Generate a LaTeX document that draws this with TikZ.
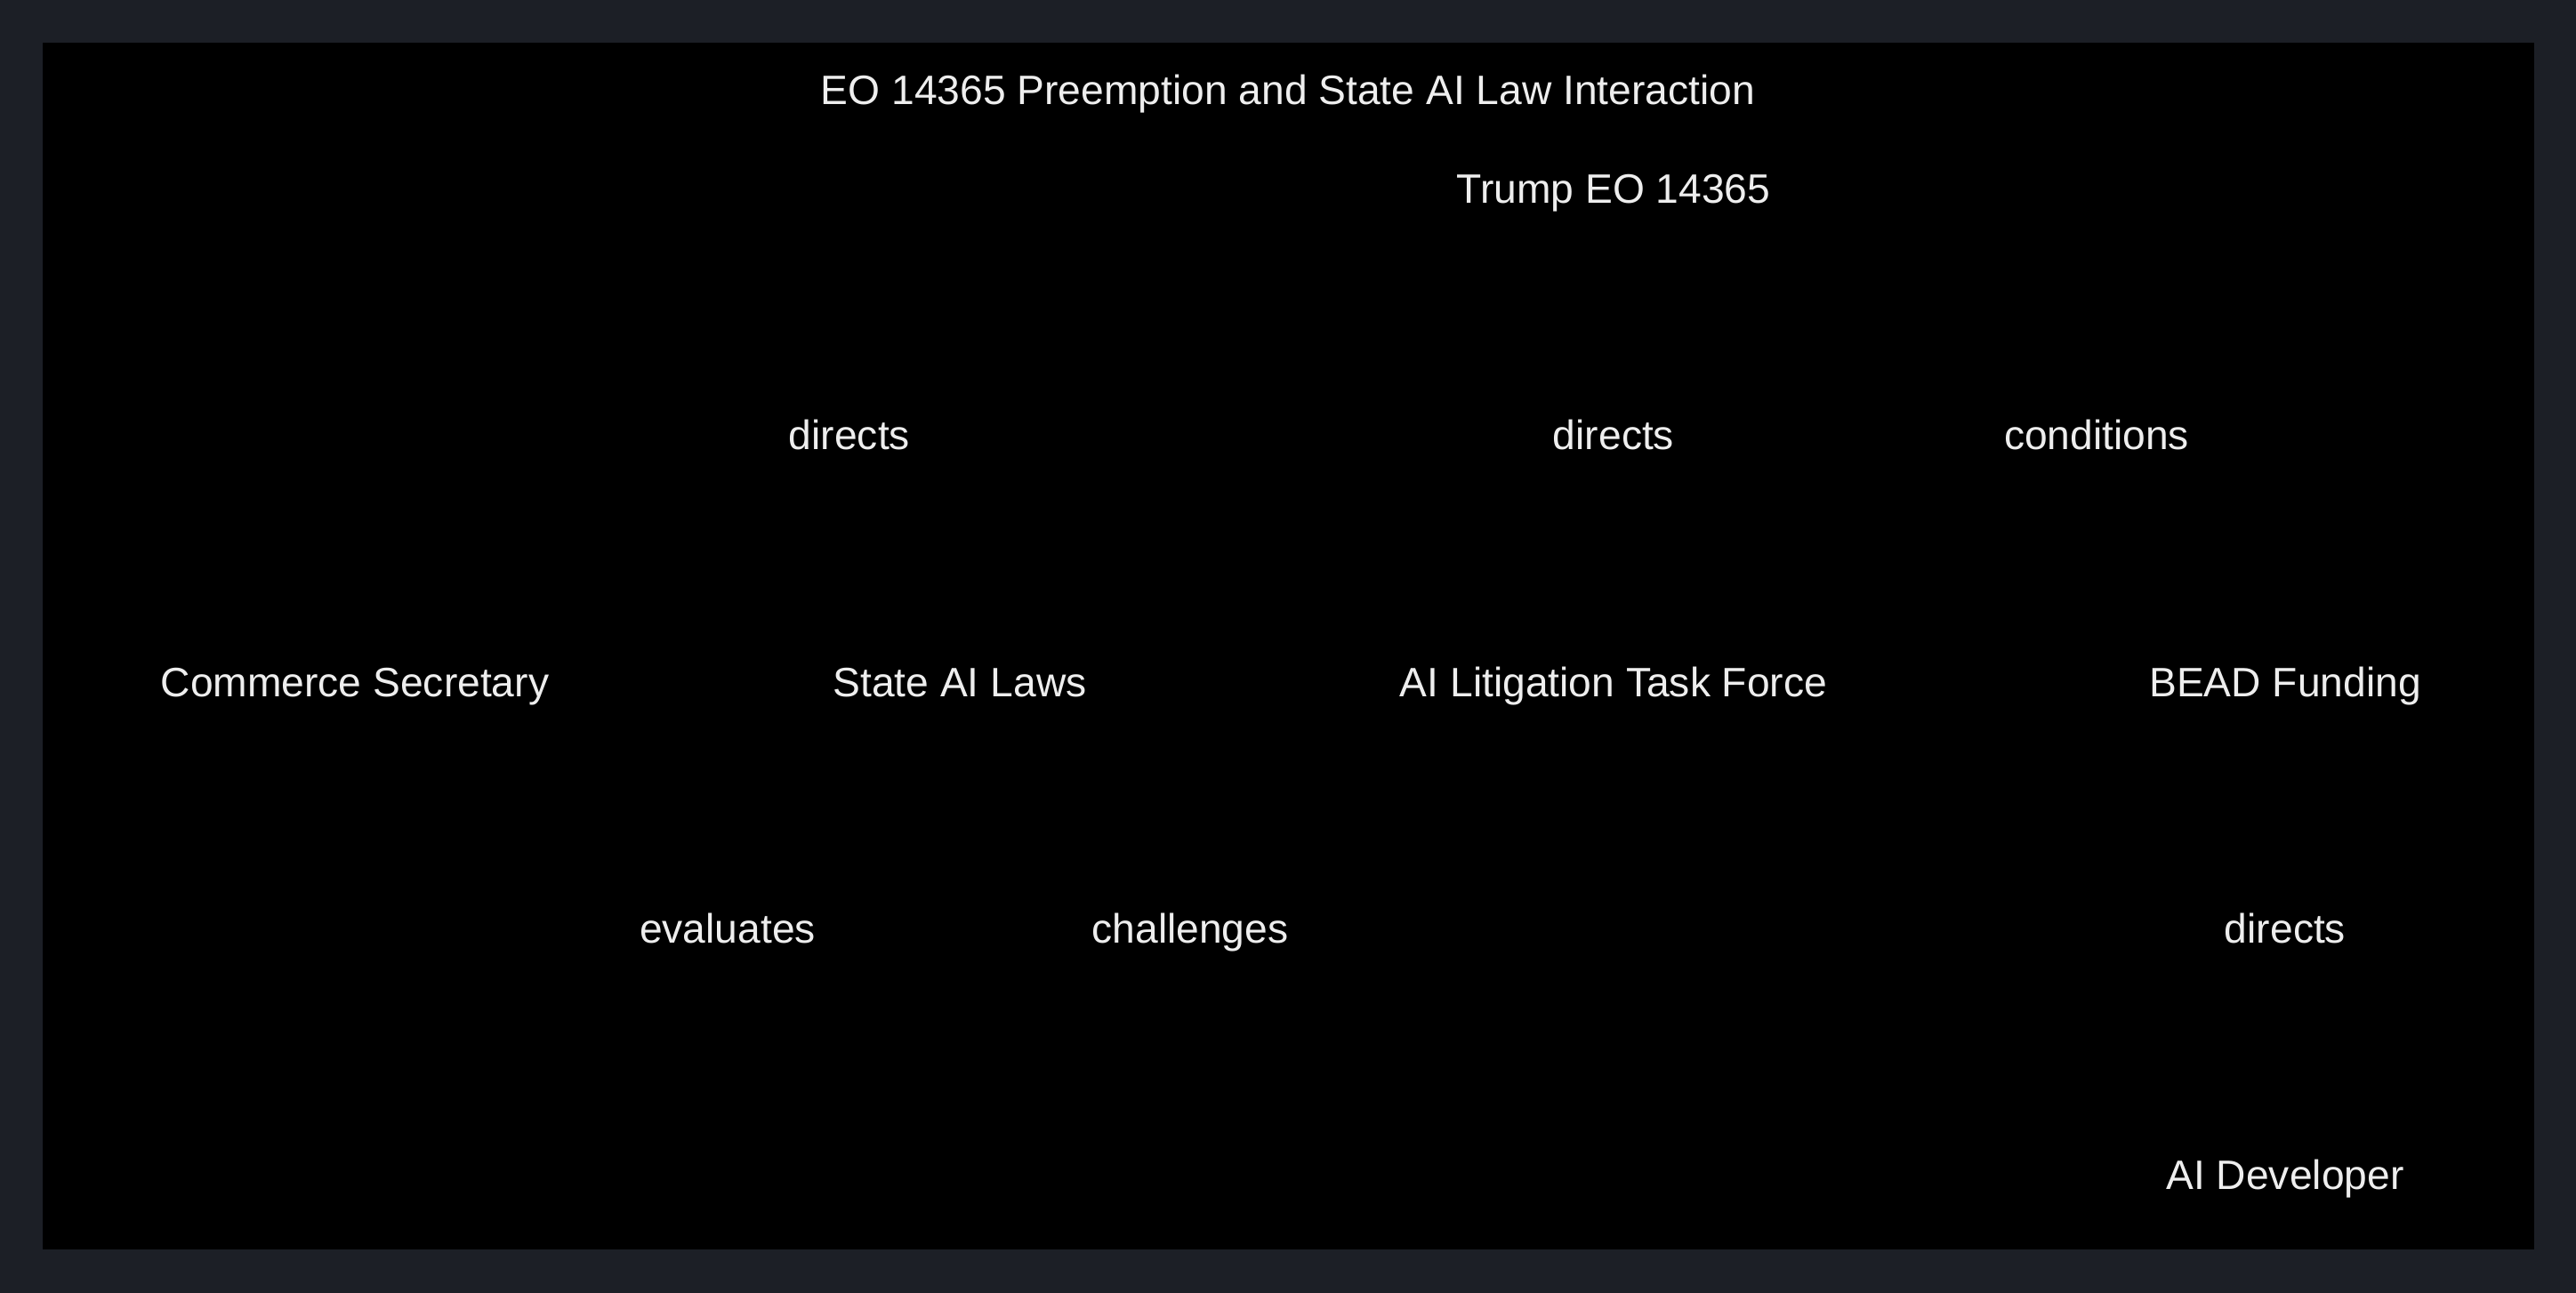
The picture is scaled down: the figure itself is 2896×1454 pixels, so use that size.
\documentclass[tikz,border=0pt]{standalone}
\usepackage{fontspec}
\setmainfont{Liberation Sans}
\definecolor{outerbg}{HTML}{1C1F26}
\definecolor{innerbg}{HTML}{000000}
\definecolor{txt}{HTML}{EEEEEE}
\begin{document}
\begin{tikzpicture}[x=0.5pt,y=-0.5pt,
  lbl/.style={text=txt,font=\fontsize{23.1pt}{27pt}\selectfont,inner sep=0pt,anchor=base}]
\fill[outerbg] (0,0) rectangle (2896,1454);
\fill[innerbg] (48,48) rectangle (2849,1405);
\useasboundingbox (0,0) rectangle (2896,1454);
\node[lbl] (title) at (1448,118) {EO 14365 Preemption and State AI Law Interaction};
\node[lbl] (trump) at (1814,229) {Trump EO 14365};
\node[lbl] (d1) at (955,506) {directs};
\node[lbl] (d2) at (1814,506) {directs};
\node[lbl] (cond) at (2357,506) {conditions};
\node[lbl] (comm) at (399,783) {Commerce Secretary};
\node[lbl] (state) at (1079,783) {State AI Laws};
\node[lbl] (task) at (1814,783) {AI Litigation Task Force};
\node[lbl] (bead) at (2569,783) {BEAD Funding};
\node[lbl] (eval) at (818,1060) {evaluates};
\node[lbl] (chal) at (1338,1060) {challenges};
\node[lbl] (d3) at (2569,1060) {directs};
\node[lbl] (dev) at (2569,1337) {AI Developer};
\end{tikzpicture}
\end{document}
